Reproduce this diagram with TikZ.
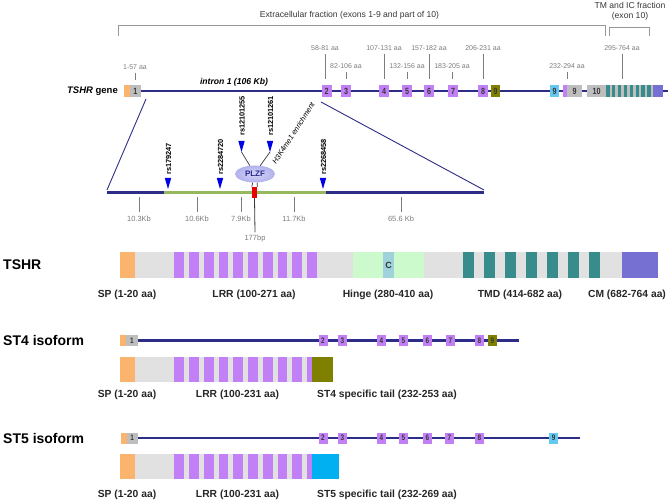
\documentclass[tikz,border=0pt]{standalone}
\usepackage{fontspec}
\setmainfont{Liberation Sans}
\newfontfamily\narrowsans[FakeStretch=0.8]{Liberation Sans}
\usetikzlibrary{backgrounds,shapes.geometric,calc}
\definecolor{navy}{RGB}{45,45,135}
\definecolor{orng}{RGB}{251,180,110}
\definecolor{exgray}{RGB}{190,190,190}
\definecolor{bargray}{RGB}{225,225,225}
\definecolor{purp}{RGB}{193,128,245}
\definecolor{exolive}{RGB}{128,128,0}
\definecolor{cyanex}{RGB}{100,200,240}
\definecolor{cyantail}{RGB}{0,176,240}
\definecolor{tmdteal}{RGB}{56,140,140}
\definecolor{cmblue}{RGB}{118,112,210}
\definecolor{hingegreen}{RGB}{205,250,205}
\definecolor{cbox}{RGB}{160,210,220}
\definecolor{intgreen}{RGB}{150,185,95}
\definecolor{snpblue}{RGB}{0,0,230}
\definecolor{plzfin}{RGB}{212,212,250}
\definecolor{plzfout}{RGB}{178,178,235}
\definecolor{plzftext}{RGB}{40,40,140}
\definecolor{labgray}{RGB}{125,125,125}
\definecolor{brgray}{RGB}{150,150,150}
\definecolor{txtdark}{RGB}{55,55,55}
\definecolor{redbox}{RGB}{235,0,0}
\begin{document}
\begin{tikzpicture}[x=1pt,y=-1pt,
  every node/.style={inner sep=0pt},
  aa/.style={font=\fontsize{7}{8}\selectfont, text=labgray},
  ex/.style={minimum width=10pt, minimum height=12pt, font=\narrowsans\fontsize{9}{9}\selectfont\bfseries, text=txtdark},
  exs/.style={minimum width=9pt, minimum height=11pt, font=\narrowsans\fontsize{8}{8}\selectfont\bfseries, text=txtdark},
  tick/.style={draw=labgray, line width=0.8pt},
  bracket/.style={draw=brgray, line width=0.9pt},
  gline/.style={draw=navy, line width=2.6pt},
  sline/.style={draw=navy, line width=2.4pt},
  domlab/.style={font=\fontsize{10.3}{12}\selectfont\bfseries, text=black!85},
  rowlab/.style={font=\fontsize{14}{16}\selectfont\bfseries, anchor=west},
  rslab/.style={font=\fontsize{7.4}{8}\selectfont\bfseries, rotate=90, anchor=west},
  kblab/.style={font=\fontsize{7.5}{8}\selectfont, text=labgray},
  bar/.style={minimum height=26pt},
  barb/.style={minimum height=25pt},
]
\useasboundingbox (0,0) rectangle (669,502);

% ---------- top brackets ----------
\coordinate (b1a) at (118,36); \coordinate (b1b) at (118,25);
\coordinate (b1c) at (605,25); \coordinate (b1d) at (605,36);
\draw[bracket] (b1a) -- (b1b) -- (b1c) -- (b1d);
\node[font=\fontsize{8.6}{10}\selectfont, text=txtdark] (ecf) at (349.5,15.5) {Extracellular fraction (exons 1-9 and part of 10)};
\coordinate (b2a) at (609,36); \coordinate (b2b) at (609,27);
\coordinate (b2c) at (649,27); \coordinate (b2d) at (649,36);
\draw[bracket] (b2a) -- (b2b) -- (b2c) -- (b2d);
\node[font=\fontsize{8.6}{10.5}\selectfont, text=txtdark, align=center] (tmic) at (630,11.5) {TM and IC fraction\\(exon 10)};

% ---------- gene row ----------
\node[font=\fontsize{9.5}{11}\selectfont\bfseries, anchor=east] (tg) at (118,91) {\textit{TSHR} gene};
\node[font=\fontsize{8.6}{9}\selectfont\bfseries\itshape] (in1) at (234,82) {intron 1 (106 Kb)};
\node[ex, fill=orng, minimum width=6pt] (g1a) at (127,91) {};
\node[ex, fill=exgray, minimum width=11pt] (g1) at (135.5,91) {1};
\node[ex, fill=purp] (g2) at (326.5,91) {2};
\node[ex, fill=purp] (g3) at (346,91) {3};
\node[ex, fill=purp] (g4) at (384,91) {4};
\node[ex, fill=purp] (g5) at (407,91) {5};
\node[ex, fill=purp] (g6) at (429,91) {6};
\node[ex, fill=purp] (g7) at (453,91) {7};
\node[ex, fill=purp] (g8) at (483,91) {8};
\node[ex, fill=exolive, minimum width=9pt] (g9a) at (495.5,91) {9};
\node[ex, fill=cyanex, minimum width=9pt] (g9b) at (554.5,91) {9};
\node[ex, fill=purp, minimum width=4pt] (g9c) at (565,91) {};
\node[ex, fill=exgray, minimum width=15pt] (g9d) at (574.5,91) {9};
\node[ex, fill=exgray, minimum width=19pt] (g10) at (596.5,91) {10};
\node[ex, fill=exgray, minimum width=47pt] (g10s) at (629.5,91) {};
\foreach \i in {0,...,7} \fill[tmdteal] (606+\i*5.9,85) rectangle ++(3.5,12);
\node[ex, fill=cmblue, minimum width=10pt] (g10c) at (658,91) {};
\coordinate (gend) at (668,91);
\begin{pgfonlayer}{background}
\draw[gline] (g1.east) -- (gend);
\end{pgfonlayer}

% amino-acid labels
\node[aa] (l1) at (135,67) {1-57 aa};
\node[aa] (l2) at (325,48) {58-81 aa};
\node[aa] (l3) at (346,66) {82-106 aa};
\node[aa] (l4) at (384,48) {107-131 aa};
\node[aa] (l5) at (407,66) {132-156 aa};
\node[aa] (l6) at (429,48) {157-182 aa};
\node[aa] (l7) at (452,66) {183-205 aa};
\node[aa] (l8) at (483,48) {206-231 aa};
\node[aa] (l9) at (567,66) {232-294 aa};
\node[aa] (l10) at (622,48) {295-764 aa};
\foreach \l in {l1,l3,l5,l7,l9} \draw[tick] ([yshift=-3pt]\l.south) -- ++(0,7);
\foreach \l in {l2,l4,l6,l8,l10} \draw[tick] ([yshift=-3pt]\l.south) -- ++(0,25);

% ---------- intron 1 detail ----------
\coordinate (iL) at (107,193); \coordinate (iG1) at (164,193);
\coordinate (iG2) at (326,193); \coordinate (iR) at (484,193);
\coordinate (eL) at (146,99); \coordinate (eR) at (321,102);
\draw[navy, line width=0.9pt] (eL) -- ([yshift=3pt]iL);
\draw[navy, line width=0.9pt] (eR) -- ([yshift=3pt]iR);
\draw[navy, line width=3pt] (iL) -- (iG1);
\draw[intgreen, line width=3pt] (iG1) -- (iG2);
\draw[navy, line width=3pt] (iG2) -- (iR);

\foreach \x/\t in {139/10.3Kb, 197/10.6Kb, 241/7.9Kb, 294/11.7Kb, 401/65.6 Kb} {
  \draw[tick] (\x,197) -- (\x,212);
  \node[kblab] (kb\x) at (\x,218.5) {\t};
}

\node[fill=redbox, minimum width=5pt, minimum height=11pt] (rb) at (254.5,192.5) {};
\node[kblab] (bp) at (255,239) {177bp};
\draw[draw=txtdark, line width=0.8pt] (rb.south) -- ([yshift=3pt]bp.north);

\node[ellipse, inner color=plzfin, outer color=plzfout, minimum width=40pt, minimum height=17pt,
      font=\fontsize{8}{8}\selectfont\bfseries, text=plzftext] (plzf) at (255,174) {PLZF};
\draw[txtdark, line width=0.7pt] (plzf.255) -- (rb.north west);
\draw[txtdark, line width=0.7pt] (plzf.285) -- (rb.north east);

% SNP markers
\coordinate (s1) at (168,189); \coordinate (s2) at (220,189);
\coordinate (s3) at (241.5,152); \coordinate (s4) at (270,152);
\coordinate (s5) at (323,189);
\foreach \s in {s1,s2,s3,s4,s5} \fill[snpblue] (\s) -- ++(-3.2,-11) -- ++(6.4,0) -- cycle;
\draw[txtdark, line width=0.7pt] (s3) -- (plzf.122);
\draw[txtdark, line width=0.7pt] (s4) -- (plzf.58);
\node[rslab] (r1) at (168.5,175) {rs179247};
\node[rslab] (r2) at (220.5,175) {rs2284720};
\node[rslab] (r3) at (242,136) {rs12101255};
\node[rslab] (r4) at (270.5,136) {rs12101261};
\node[rslab] (r5) at (323.5,175) {rs2268458};
\node[font=\fontsize{7.4}{8}\selectfont\itshape, rotate=57, anchor=base west] (h3k) at (276,165) {H3K4me1 enrichment};

% ---------- TSHR protein ----------
\node[rowlab] (tshrlab) at (3,265) {TSHR};
\node[bar, fill=bargray, minimum width=538pt] (tshr) at (389,265) {};
\node[bar, fill=orng, minimum width=15pt] (tsp) at (127.5,265) {};
\foreach \i in {0,...,9} \fill[purp] (174.3+\i*14.75,252) rectangle ++(9.7,26);
\node[bar, fill=hingegreen, minimum width=71pt] (thinge) at (388.5,265) {};
\node[bar, fill=cbox, minimum width=11pt, font=\fontsize{9}{9}\selectfont\bfseries, text=txtdark] (tc) at (388.5,265) {C};
\foreach \i in {0,...,6} \fill[tmdteal] (462.7+\i*21,252) rectangle ++(11.3,26);
\node[bar, fill=cmblue, minimum width=36.3pt] (tcm) at (639.85,265) {};
\node[domlab] (d1) at (127,294.5) {SP (1-20 aa)};
\node[domlab] (d2) at (254,294.5) {LRR (100-271 aa)};
\node[domlab] (d3) at (388,294.5) {Hinge (280-410 aa)};
\node[domlab] (d4) at (520,294.5) {TMD (414-682 aa)};
\node[domlab] (d5) at (627,294.5) {CM (682-764 aa)};

% ---------- ST4 isoform ----------
\node[rowlab] (st4lab) at (3,340) {ST4 isoform};
\node[exs, fill=orng, minimum width=6pt] (a1a) at (123,340.5) {};
\node[exs, fill=exgray, minimum width=12pt] (a1) at (132,340.5) {1};
\foreach \n/\x in {2/323,3/342.5,4/381.5,5/403.5,6/427.5,7/450.5,8/479.5}
  \node[exs, fill=purp] (a\n) at (\x,340.5) {\n};
\node[exs, fill=exolive] (a9) at (492.5,340.5) {9};
\coordinate (aend) at (519,340.5);
\begin{pgfonlayer}{background}
\draw[sline] (a1.east) -- (aend);
\end{pgfonlayer}
\node[barb, fill=bargray, minimum width=213pt] (st4) at (226.5,369.5) {};
\node[barb, fill=orng, minimum width=15pt] (st4sp) at (127.5,369.5) {};
\foreach \i in {0,...,9} \fill[purp] (174.3+\i*14.75,357) rectangle ++(9.7,25);
\node[barb, fill=exolive, minimum width=21.3pt] (st4tail) at (322.35,369.5) {};
\node[domlab] (e1) at (127,394.5) {SP (1-20 aa)};
\node[domlab] (e2) at (237.5,394.5) {LRR (100-231 aa)};
\node[domlab] (e3) at (387,394.5) {ST4 specific tail (232-253 aa)};

% ---------- ST5 isoform ----------
\node[rowlab] (st5lab) at (3,438) {ST5 isoform};
\node[exs, fill=orng, minimum width=6pt] (c1a) at (123.5,438) {};
\node[exs, fill=exgray, minimum width=11pt] (c1) at (132.2,438) {1};
\foreach \n/\x in {2/323,3/342.5,4/381.5,5/403.5,6/427.5,7/449.5,8/479.5}
  \node[exs, fill=purp] (c\n) at (\x,438) {\n};
\node[exs, fill=cyanex] (c9) at (553.7,438) {9};
\coordinate (cend) at (580,438);
\begin{pgfonlayer}{background}
\draw[sline] (c1.east) -- (cend);
\end{pgfonlayer}
\node[barb, fill=bargray, minimum width=219pt] (st5) at (229.5,466.5) {};
\node[barb, fill=orng, minimum width=15pt] (st5sp) at (127.5,466.5) {};
\foreach \i in {0,...,9} \fill[purp] (174.3+\i*14.75,454) rectangle ++(9.7,25);
\node[barb, fill=cyantail, minimum width=27pt] (st5tail) at (325.5,466.5) {};
\node[domlab] (f1) at (127,494.5) {SP (1-20 aa)};
\node[domlab] (f2) at (237.5,494.5) {LRR (100-231 aa)};
\node[domlab] (f3) at (387,494.5) {ST5 specific tail (232-269 aa)};
\end{tikzpicture}
\end{document}
